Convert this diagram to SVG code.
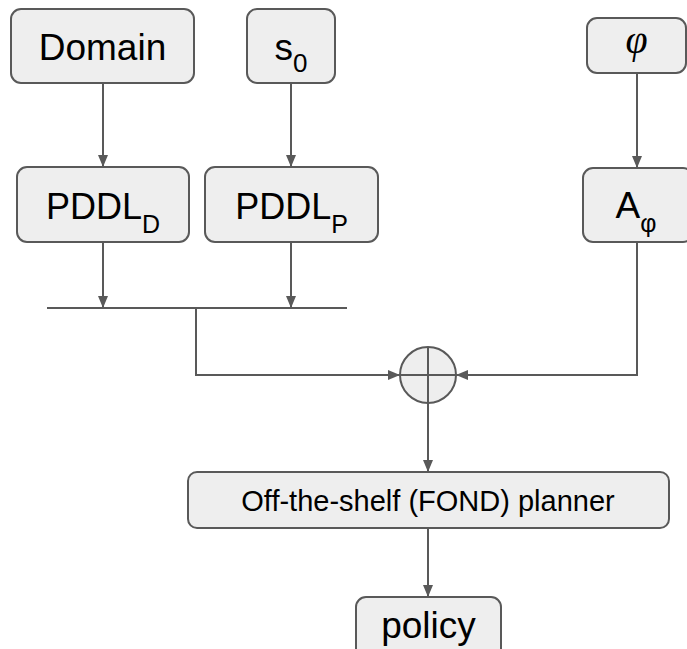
<svg xmlns="http://www.w3.org/2000/svg" width="687" height="649" viewBox="0 0 687 649">
  <defs>
    <marker id="arrow" markerWidth="12" markerHeight="10" refX="12" refY="5" orient="auto" markerUnits="userSpaceOnUse">
      <path d="M0,0 L12,5 L0,10 Z" fill="#595959"/>
    </marker>
    <style>
      .box { fill: #eeeeee; stroke: #595959; stroke-width: 2; }
      .lbl { font-family: "Liberation Sans", Arial, sans-serif; fill: #000000; text-anchor: middle; }
      .big { font-size: 37px; }
      .sub { font-size: 25px; }
      .mid { font-size: 29px; }
      .wire { fill: none; stroke: #595959; stroke-width: 2; }
      .curly { font-family: "Liberation Serif", "Times New Roman", serif; font-style: italic; font-size: 40px; }
    </style>
  </defs>
  <rect width="687" height="649" fill="#ffffff"/>

  <!-- connectors -->
  <g id="connectors">
    <line class="wire" x1="103" y1="83" x2="103" y2="167" marker-end="url(#arrow)"/>
    <line class="wire" x1="291" y1="83" x2="291" y2="167" marker-end="url(#arrow)"/>
    <line class="wire" x1="637" y1="73" x2="637" y2="168" marker-end="url(#arrow)"/>
    <line class="wire" x1="103" y1="242" x2="103" y2="308" marker-end="url(#arrow)"/>
    <line class="wire" x1="291" y1="242" x2="291" y2="308" marker-end="url(#arrow)"/>
    <line class="wire" x1="47" y1="308" x2="347" y2="308"/>
    <polyline class="wire" points="196,308 196,375 400,375" marker-end="url(#arrow)"/>
    <polyline class="wire" points="637,242 637,375 456,375" marker-end="url(#arrow)"/>
    <line class="wire" x1="428" y1="403" x2="428" y2="472" marker-end="url(#arrow)"/>
    <line class="wire" x1="428" y1="528" x2="428" y2="597" marker-end="url(#arrow)"/>
  </g>

  <!-- nodes -->
  <g id="domain">
    <rect class="box" x="11" y="9" width="183" height="74" rx="10"/>
    <text class="lbl big" x="102.5" y="60">Domain</text>
  </g>
  <g id="s0">
    <rect class="box" x="247" y="9" width="88" height="74" rx="10"/>
    <text class="lbl big" x="291" y="60">s<tspan font-size="26" dy="12">0</tspan></text>
  </g>
  <g id="phi">
    <rect class="box" x="587" y="18" width="99" height="55" rx="10"/>
    <text class="lbl curly" x="636.5" y="53">φ</text>
  </g>
  <g id="pddl-d">
    <rect class="box" x="17" y="167" width="172" height="75" rx="10"/>
    <text class="lbl" font-size="36" x="103" y="219">PDDL<tspan class="sub" dy="14">D</tspan></text>
  </g>
  <g id="pddl-p">
    <rect class="box" x="205" y="167" width="173" height="75" rx="10"/>
    <text class="lbl" font-size="36" x="291.5" y="219">PDDL<tspan class="sub" dy="14">P</tspan></text>
  </g>
  <g id="a-phi">
    <rect class="box" x="583" y="168" width="110" height="74" rx="10"/>
    <text class="lbl big" x="636" y="218">A<tspan class="sub" dy="14">φ</tspan></text>
  </g>
  <g id="combine">
    <circle class="box" cx="428" cy="375" r="28"/>
    <line class="wire" x1="428" y1="347" x2="428" y2="403"/>
    <line class="wire" x1="400" y1="375" x2="456" y2="375"/>
  </g>
  <g id="planner">
    <rect class="box" x="188" y="472" width="481" height="56" rx="9"/>
    <text class="lbl mid" x="428" y="511">Off-the-shelf (FOND) planner</text>
  </g>
  <g id="policy">
    <rect class="box" x="356" y="597" width="145" height="74" rx="10"/>
    <text class="lbl big" x="428.5" y="638">policy</text>
  </g>
</svg>
